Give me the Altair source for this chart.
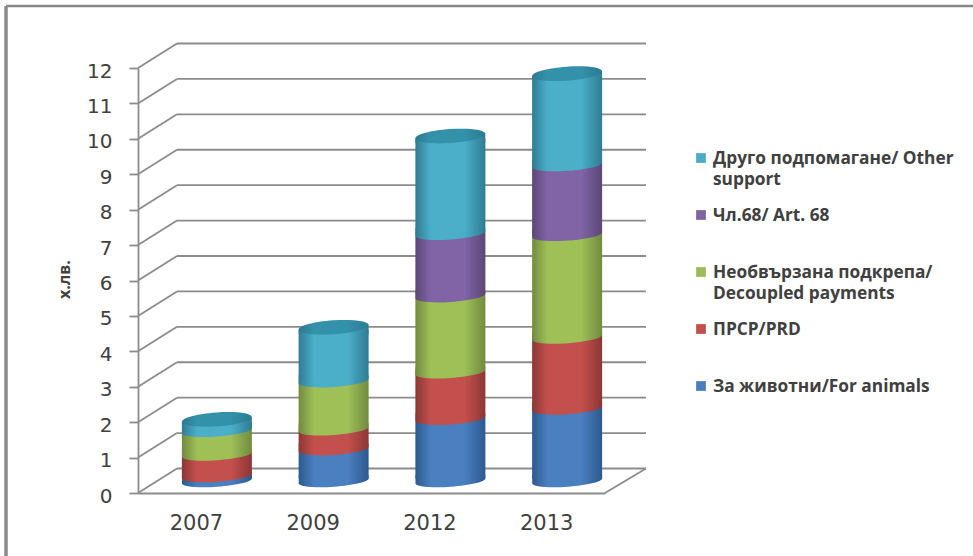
import altair as alt
import pandas as pd

years = ["2007", "2009", "2012", "2013"]

animals = [0.14, 0.90, 1.76, 2.05]
prd = [0.61, 0.56, 1.31, 2.00]
decoupled = [0.67, 1.36, 2.15, 2.90]
art68 = [0.00, 0.00, 1.76, 1.97]
other = [0.32, 1.52, 2.76, 2.58]

series_values = [animals, prd, decoupled, art68, other]

legend_labels = [
    "Друго подпомагане/ Other|support",
    "Чл.68/ Art. 68",
    "Необвързана подкрепа/|Decoupled payments",
    "ПРСР/PRD",
    "За животни/For animals",
]

axis_ticks = list(range(0, 13))

# mid, dark edge
palette = [
    ("#4a7fc0", "#2c5a8f"),
    ("#c4504d", "#8c3735"),
    ("#9fc056", "#718b40"),
    ("#8064a6", "#5c4776"),
    ("#4bafca", "#2f7c93"),
]
legend_colors = ["#4bacc6", "#8064a2", "#9bbb59", "#c0504d", "#4a7ebb"]

PLOT_W, PLOT_H = 508, 425
FRONT_W = 467
DEPTH_X, DEPTH_Y = 39, 24.5
GRID = "#8c8c8c"
TEXT = "#404040"
BODY_FONT = "DejaVu Sans"
LABEL_FONT = "Open Sans"

# Tilted ellipse pieces, in symbol units (radius = half the cylinder width)
SYMBOL_SIZE = 4900
FRONT_ARC = "M-.9976 .07 A1 .165 -4 0 0 .9976 -.07 L.9976 -.17 L-.9976 -.17 Z"
SHOULDER = "M-.9976 .07 L.9976 -.07 L.9976 .2 L-.9976 .2 Z"
FULL_CAP = "M-.9976 .07 A1 .2 -4 1 1 .9976 -.07 A1 .2 -4 1 1 -.9976 .07 Z"


def shade(mid, dark):
    return alt.Gradient(
        gradient="linear", x1=0, x2=1, y1=0, y2=0,
        stops=[
            alt.GradientStop(color=dark, offset=0),
            alt.GradientStop(color=mid, offset=0.22),
            alt.GradientStop(color=mid, offset=0.7),
            alt.GradientStop(color=dark, offset=1),
        ],
    )


rows = []
for j, year in enumerate(years):
    base = 0.0
    for s, values in enumerate(series_values):
        v = values[j]
        if v > 0:
            rows.append({"year": year, "series": s, "y0": base, "y1": base + v})
        base += v
stack = pd.DataFrame(rows)
totals = stack.groupby("year", as_index=False)["y1"].max()

x_enc = alt.X(
    "year:N",
    sort=years,
    title=None,
    scale=alt.Scale(type="band", range=[0, FRONT_W], paddingInner=0, paddingOuter=0),
    axis=alt.Axis(
        labelAngle=0, labelFont=BODY_FONT, labelFontSize=21, labelColor=TEXT,
        labelPadding=19, tickSize=0, domainColor=GRID, domainWidth=1.8, grid=False,
    ),
)
y_scale = alt.Scale(domain=[0, 12], nice=False)
y_axis = alt.Axis(
    values=axis_ticks, labelFont=BODY_FONT, labelFontSize=20, labelColor=TEXT,
    labelPadding=17, labelOffset=3, tickSize=9, tickColor=GRID, tickWidth=1.8,
    domainColor=GRID, domainWidth=1.8, grid=False, titleFont=LABEL_FONT,
    titleFontSize=16, titleFontWeight="bold", titleColor=TEXT, titleX=-66, titleY=211,
)


def y_from(field):
    return alt.Y(f"{field}:Q", title="х.лв.", scale=y_scale, axis=y_axis)


grid_df = pd.DataFrame({"value": axis_ticks})

# Back wall, side wall and floor edge
back_wall = alt.Chart(grid_df).mark_rule(
    color=GRID, strokeWidth=1.8, yOffset=-DEPTH_Y
).encode(x=alt.value(DEPTH_X), x2=alt.value(PLOT_W), y=y_from("value"))

side_wall = alt.Chart(grid_df).mark_rule(
    color=GRID, strokeWidth=1.8, y2Offset=-DEPTH_Y
).encode(x=alt.value(0), x2=alt.value(DEPTH_X), y=y_from("value"), y2=alt.Y2("value:Q"))

floor_edge = alt.Chart(grid_df[grid_df["value"] == 0]).mark_rule(
    color=GRID, strokeWidth=1.8, y2Offset=-DEPTH_Y
).encode(x=alt.value(FRONT_W), x2=alt.value(PLOT_W), y=y_from("value"), y2=alt.Y2("value:Q"))

layers = [back_wall, side_wall, floor_edge]

# Cylinder segments, painted upward so each front arc overlaps the one below
LIFT = 12
for s, (mid, dark) in enumerate(palette):
    seg = stack[stack["series"] == s]
    is_top = s == len(palette) - 1
    grad = shade(mid, dark)
    body = alt.Chart(seg).mark_bar(
        width=70, xOffset=20.5, fill=grad,
        yOffset=-(LIFT - 2.5) if is_top else -(LIFT + 2.5),
        y2Offset=-(LIFT + 2.5),
    ).encode(x=x_enc, y=y_from("y1"), y2=alt.Y2("y0:Q"))
    arc = alt.Chart(seg).mark_point(
        shape=FRONT_ARC, size=SYMBOL_SIZE, filled=True, fill=grad, opacity=1,
        strokeWidth=0, xOffset=20.5, yOffset=-LIFT,
    ).encode(x=x_enc, y=y_from("y0"))
    layers += [body, arc]

top_mid, top_dark = palette[-1]
shoulder = alt.Chart(totals).mark_point(
    shape=SHOULDER, size=SYMBOL_SIZE, filled=True, fill=shade(top_mid, top_dark),
    opacity=1, strokeWidth=0, xOffset=20.5, yOffset=-LIFT,
).encode(x=x_enc, y=y_from("y1"))
cap = alt.Chart(totals).mark_point(
    shape=FULL_CAP, size=SYMBOL_SIZE, filled=True, fill=shade("#3491aa", "#2a7b91"),
    opacity=1, strokeWidth=0, xOffset=20.5, yOffset=-LIFT,
).encode(x=x_enc, y=y_from("y1"))
layers += [shoulder, cap]

# Key on the right: five evenly spaced entries
KEY_X, KEY_TOP, KEY_STEP = 558, 90, 57
for i, (label, colour) in enumerate(zip(legend_labels, legend_colors)):
    row = pd.DataFrame({"label": [label]})
    y = KEY_TOP + i * KEY_STEP
    layers.append(
        alt.Chart(row).mark_square(size=95, color=colour, opacity=1).encode(
            x=alt.value(KEY_X + 5), y=alt.value(y)
        )
    )
    layers.append(
        alt.Chart(row).mark_text(
            align="left", baseline="middle", font=LABEL_FONT, fontWeight="bold",
            fontSize=17.3, color=TEXT, lineBreak="|", lineHeight=21,
        ).encode(x=alt.value(KEY_X + 17), y=alt.value(y + 1), text="label:N")
    )

# Outer frame along the top and left
frame_df = pd.DataFrame({"k": [0]})
frame_top = alt.Chart(frame_df).mark_rule(color="#8a8a8a", strokeWidth=2.5).encode(
    x=alt.value(-132), x2=alt.value(840), y=alt.value(-62)
)
frame_left = alt.Chart(frame_df).mark_rule(color="#8a8a8a", strokeWidth=3.5).encode(
    x=alt.value(-132), y=alt.value(-62), y2=alt.value(495)
)
layers += [frame_top, frame_left]

chart = (
    alt.layer(*layers)
    .properties(
        width=PLOT_W,
        height=PLOT_H,
        padding={"left": 138, "top": 68, "right": 973 - 138 - PLOT_W, "bottom": 556 - 68 - PLOT_H},
        autosize=alt.AutoSizeParams(type="none"),
        background="white",
    )
    .configure_view(stroke=None)
)

chart.save("out.html", embed_options={"renderer": "svg", "actions": False})
